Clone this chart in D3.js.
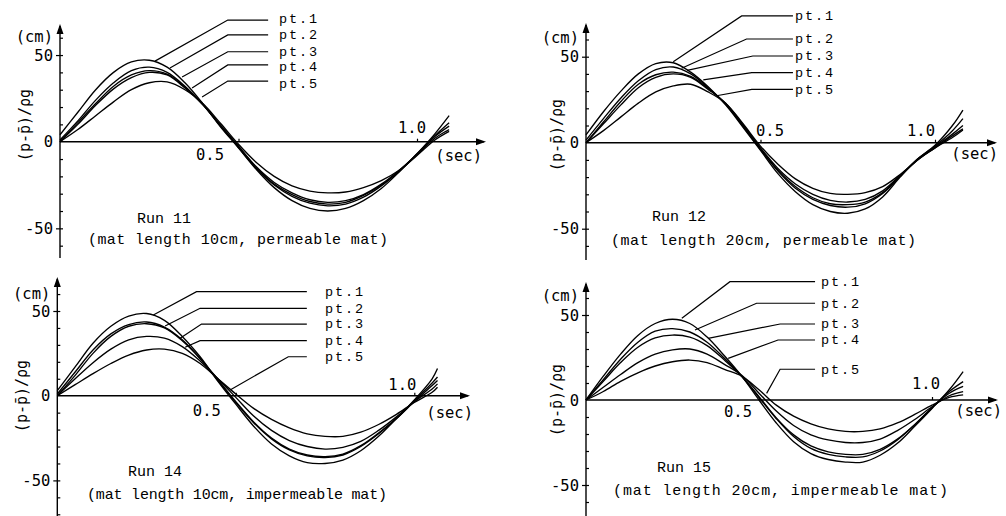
<!DOCTYPE html>
<html><head><meta charset="utf-8">
<script src="https://cdn.jsdelivr.net/npm/d3@7"></script>
<style>body{margin:0;background:#fff;}svg{display:block;}</style>
</head><body>
<svg id="chart" width="1006" height="516"></svg>
<script>
// ---------- DATA ----------
const seriesNames = ["pt.1", "pt.2", "pt.3", "pt.4", "pt.5"];
const runTitles = ["Run 11", "Run 12", "Run 14", "Run 15"];
const runSubtitles = [
  "(mat length 10cm, permeable mat)",
  "(mat length 20cm, permeable mat)",
  "(mat length 10cm, impermeable mat)",
  "(mat length 20cm, impermeable mat)"
];
const xTickValues = [0.5, 1.0];
const xTickLabels = ["0.5", "1.0"];
const yTickValues = [50, 0, -50];
const yTickLabels = ["50", "0", "-50"];
const yUnit = "(cm)";
const xUnit = "(sec)";
const yTitle = "(p-p\u0304)/\u03c1g";

// time (s) of each sample
const times11 = [0,0.05,0.1,0.15,0.2,0.25,0.3,0.35,0.4,0.45,0.5,0.55,0.6,0.65,0.7,0.75,0.8,0.85,0.9,0.95,1.0,1.05,1.09];
const times12 = [0,0.05,0.1,0.15,0.2,0.25,0.3,0.35,0.4,0.45,0.5,0.55,0.6,0.65,0.7,0.75,0.8,0.85,0.9,0.95,1.0,1.05,1.08];
const times14 = [0,0.05,0.1,0.15,0.2,0.25,0.3,0.35,0.4,0.45,0.5,0.55,0.6,0.65,0.7,0.75,0.8,0.85,0.9,0.95,1.0,1.05,1.065];
const times15 = [0,0.05,0.1,0.15,0.2,0.25,0.3,0.35,0.4,0.45,0.5,0.55,0.6,0.65,0.7,0.75,0.8,0.85,0.9,0.95,1.0,1.05,1.09];

// Run 11 (cm)
const run11 = [
  [4,17,30,40,46,47,43,34,22,8.5,-3.5,-16,-26.5,-34,-38.5,-40,-38.5,-34,-27,-17.5,-7,4.5,15],
  [1,12,24,34,41,43,40,32,21.5,9,-3.5,-15.5,-25,-31.5,-35.5,-37,-36,-32,-25.5,-17,-7,3.5,11],
  [0,11,22,32,38.5,41,39,31.5,21.5,9,-3,-15,-24.5,-30.5,-34.5,-36,-35,-31,-25,-17,-7.5,3,9],
  [0,10,21,30.5,37,40,38.5,31,21.5,9.5,-2.5,-14.5,-23.5,-29.5,-33.5,-35,-34,-30.5,-24.5,-16.5,-7.5,2,7],
  [0,7,15,23,30,34,34.5,30,22,10.5,-1.5,-12,-20,-25.5,-28.5,-29.5,-29,-26.5,-22.5,-16.5,-8,1,6]
];
// Run 12
const run12 = [
  [4.5,18,30,40,46,46.5,41,32.5,22,9,-4.5,-18,-28.5,-36,-40,-41,-38.5,-31.5,-20,-9.5,-1.5,10,19],
  [1.5,14,26,36,42.5,44,40,32,22.5,9.5,-4,-16.5,-26.5,-33,-36.5,-37.5,-35.5,-29.5,-19.5,-9.5,-2,7,14],
  [0,12,24,34,39.5,41,38.5,31.5,22.5,10,-3.5,-16,-25.5,-32,-35.5,-36,-34.5,-29,-19.5,-10,-2.5,5,10],
  [0,11,22,32,38,40,38,31,23,10.5,-3,-15,-24,-30,-33.5,-34.5,-33,-28,-19,-10,-3,4,8],
  [0,7,15,23,29.5,33,34,29.5,23,11,-2,-12.5,-21,-26.5,-29.5,-30,-29,-25.5,-18.5,-10,-3,3,7.4]
];
// Run 14
const run14 = [
  [3,17,31,41,47,48.5,44.5,35,23,8.5,-5,-18,-28.5,-35.5,-39.5,-40,-38,-32.5,-24,-13.5,-2.5,10,16],
  [1,14,27,36.5,42,43.5,40.5,33,22,9,-4,-16,-25.5,-32,-35.5,-36.5,-35,-30,-22.5,-13.5,-3,7.5,11],
  [0,12,25,35,41,42.5,40,32.5,22,9.5,-3.5,-15.5,-25,-31.5,-35,-36,-34.5,-29.5,-22,-13.5,-3.5,6,9],
  [0,10,19.5,27.5,33,35,34,29,20.5,10,-1,-12,-20.5,-26.5,-30,-31.5,-30.5,-27,-20.5,-12.5,-3.5,4,7],
  [0,6.5,13,19,24,27,27.5,25,19,10,1,-7.5,-14,-19,-22.5,-24,-24,-21.5,-17,-11,-4,2,5]
];
// Run 15
const run15 = [
  [0,14,27,38,45,47.5,45,37,26,14,0,-13.5,-24.5,-31.5,-35,-36.5,-36.5,-32.5,-25.5,-15.5,-5,6,16.7],
  [0,12,24,34,40.5,42,40,34,24.5,14,1.5,-11,-21.5,-28.5,-32,-33.5,-33.5,-30,-23.5,-14.5,-4.5,5,10.8],
  [0,11,22,31,36.5,38.2,37,32,23.5,14,2,-10.5,-20.5,-27,-30.5,-32,-32,-29,-23,-14.5,-4.5,4,8],
  [0,7.5,15,22,27,29.5,30,27,21,14.5,4,-6.5,-15,-20.5,-23.5,-25,-25,-23,-18,-11.5,-4,2.5,4.9],
  [0,5,11,16,20,22.5,23.5,22,18,14,6,-3,-9.5,-14,-17,-18.5,-18.5,-17,-13.5,-8.5,-3,1.5,3]
];

// leader lines: [anchor time, anchor value, elbow time, label value] for pt.1..pt.5
const leaders11 = [[0.266,46.5,0.47,70.2],[0.308,42.5,0.47,61.6],[0.342,37.3,0.47,51.9],[0.37,31,0.47,44.3],[0.398,25.8,0.47,35]];
const leaders12 = [[0.25,47.1,0.446,73.7],[0.274,43.3,0.46,60.3],[0.29,42,0.478,50.4],[0.336,36.5,0.475,40.7],[0.374,27.3,0.475,31]];
const leaders14 = [[0.269,47.6,0.39,61.4],[0.302,41.1,0.40,51.6],[0.344,33.9,0.404,42.3],[0.358,28.6,0.40,32.5],[0.484,3.4,0.647,23]];
const leaders15 = [[0.277,48.1,0.416,69.6],[0.315,41.2,0.493,56.9],[0.353,36.3,0.561,44.7],[0.411,24.5,0.555,35.3],[0.522,3.9,0.561,18.1]];
const leaderEnds = [0.583, 0.593, 0.699, 0.662];   // time where the horizontal leader stops

// ---------- LAYOUT (pixels / styles) ----------
const panels = [
  {times: times11, runs: run11, leaders: leaders11, ox: 60,  oy: 141.7, k: 1.733, sx: 357, yTop: 24,    yBot: 258, xEnd: 486,
   xlab: [[-28.5, 13], [-5, -14]], secX: 482, secY: 155, cmY: 36, ytx: 25, yty: 125,
   titleX: 137, titleY: 218, subX: 88, subY: 239, subW: 300, ptX: 279, ptDy: [-1.5, -0.5, -0.5, 2, 3]},
  {times: times12, runs: run12, leaders: leaders12, ox: 586, oy: 142.7, k: 1.72,  sx: 349, yTop: 23,    yBot: 260, xEnd: 997,
   xlab: [[9.5, -12.7], [-14, -12.7]], secX: 998, secY: 153, cmY: 37, ytx: 557, yty: 135,
   titleX: 652, titleY: 216, subX: 611, subY: 240, subW: 305, ptX: 795, ptDy: [0, 0, 0, 0, 0]},
  {times: times14, runs: run14, leaders: leaders14, ox: 57.3, oy: 395.7, k: 1.694, sx: 357, yTop: 277,   yBot: 516, xEnd: 470,
   xlab: [[-29, 15], [-12, -11]], secX: 473, secY: 412, cmY: 293, ytx: 22, yty: 396,
   titleX: 128, titleY: 471, subX: 87, subY: 494, subW: 300, ptX: 325, ptDy: [0, 0, 0, 0, 0]},
  {times: times15, runs: run15, leaders: leaders15, ox: 586, oy: 400,   k: 1.7,   sx: 346, yTop: 282,   yBot: 516, xEnd: 998,
   xlab: [[-21, 11.7], [-6, -16.7]], secX: 1002, secY: 410, cmY: 295, ytx: 557, yty: 400,
   titleX: 657, titleY: 467, subX: 613, subY: 490, subW: 335, ptX: 821, ptDy: [0, 0, 0, 0, 0]}
];

const svg = d3.select("#chart");
svg.append("rect").attr("width", 1006).attr("height", 516).attr("fill", "#fff");

const SANS = "'DejaVu Sans Mono', monospace";
const TYPE = "'Liberation Mono', 'DejaVu Sans Mono', monospace";

panels.forEach((p, i) => {
  const g = svg.append("g");
  const x = d3.scaleLinear().domain([0, 1]).range([p.ox, p.ox + p.sx]);
  const y = d3.scaleLinear().domain([0, 50]).range([p.oy, p.oy - 50 * p.k]);

  // y axis line + arrow
  g.append("line").attr("x1", p.ox).attr("x2", p.ox).attr("y1", p.yTop + 2).attr("y2", p.yBot)
    .attr("stroke", "#000").attr("stroke-width", 1.4);
  g.append("path").attr("d", `M${p.ox - 3.5},${p.yTop + 10}L${p.ox},${p.yTop}L${p.ox + 3.5},${p.yTop + 10}Z`).attr("fill", "#000");
  // x axis line + arrow
  g.append("line").attr("x1", p.ox).attr("x2", p.xEnd - 2).attr("y1", p.oy).attr("y2", p.oy)
    .attr("stroke", "#000").attr("stroke-width", 1.4);
  g.append("path").attr("d", `M${p.xEnd - 10},${p.oy - 3.5}L${p.xEnd},${p.oy}L${p.xEnd - 10},${p.oy + 3.5}Z`).attr("fill", "#000");

  // minor y ticks every 10 (to the right)
  const vMin = y.invert(p.yBot), vMax = y.invert(p.yTop + 12);
  const minor = d3.range(-70, 71, 10).filter(v => v >= vMin && v <= vMax && v !== 0);
  const ax = d3.axisRight(y).tickValues(minor).tickSize(3).tickFormat("");
  const axG = g.append("g").attr("transform", `translate(${p.ox},0)`).call(ax);
  axG.select(".domain").remove();
  axG.selectAll("line").attr("stroke", "#000").attr("stroke-width", 1.2);
  // major ticks to the left
  const axL = d3.axisLeft(y).tickValues([50, -50]).tickSize(4).tickFormat("");
  const axLG = g.append("g").attr("transform", `translate(${p.ox},0)`).call(axL);
  axLG.select(".domain").remove();
  axLG.selectAll("line").attr("stroke", "#000").attr("stroke-width", 1.2);

  // x ticks (small, upward)
  const axX = d3.axisTop(x).tickValues(xTickValues).tickSize(3).tickFormat("");
  const axXG = g.append("g").attr("transform", `translate(0,${p.oy})`).call(axX);
  axXG.select(".domain").remove();
  axXG.selectAll("line").attr("stroke", "#000").attr("stroke-width", 1.2);

  // y tick labels
  yTickValues.forEach((v, j) => {
    g.append("text").attr("x", p.ox - 7).attr("y", y(v)).attr("dy", "0.36em")
      .attr("text-anchor", "end").attr("font-family", SANS).attr("font-size", 15.5).text(yTickLabels[j]);
  });
  g.append("text").attr("x", p.ox - 7).attr("y", p.cmY).attr("dy", "0.36em")
    .attr("text-anchor", "end").attr("font-family", SANS).attr("font-size", 15.5).text(yUnit);
  // x tick labels
  xTickValues.forEach((v, j) => {
    g.append("text").attr("x", x(v) + p.xlab[j][0]).attr("y", p.oy + p.xlab[j][1]).attr("dy", "0.36em")
      .attr("text-anchor", "middle").attr("font-family", SANS).attr("font-size", 15.5).text(xTickLabels[j]);
  });
  g.append("text").attr("x", p.secX).attr("y", p.secY).attr("dy", "0.36em")
    .attr("text-anchor", "end").attr("font-family", SANS).attr("font-size", 15.5).text(xUnit);
  // y title
  g.append("text").attr("transform", `translate(${p.ytx},${p.yty}) rotate(-90)`).attr("dy", "0.36em")
    .attr("text-anchor", "middle").attr("font-family", SANS).attr("font-size", 15).text(yTitle);

  // curves
  const line = d3.line().x(d => x(d[0])).y(d => y(d[1])).curve(d3.curveCatmullRom.alpha(0.5));
  p.runs.forEach(vals => {
    const pts = p.times.map((t, j) => [t, vals[j]]);
    g.append("path").attr("d", line(pts)).attr("fill", "none").attr("stroke", "#000").attr("stroke-width", 1.35);
  });

  // leaders + series labels
  p.leaders.forEach((l, j) => {
    const d = `M${x(l[0])},${y(l[1])}L${x(l[2])},${y(l[3])}L${x(leaderEnds[i])},${y(l[3])}`;
    g.append("path").attr("d", d).attr("fill", "none").attr("stroke", "#000").attr("stroke-width", 1.2);
    g.append("text").attr("x", p.ptX).attr("y", y(l[3]) + p.ptDy[j]).attr("dy", "0.32em")
      .attr("font-family", TYPE).attr("font-size", 13.5)
      .attr("textLength", 38).attr("lengthAdjust", "spacing").text(seriesNames[j]);
  });

  // run title & subtitle
  g.append("text").attr("x", p.titleX).attr("y", p.titleY).attr("dy", "0.35em")
    .attr("font-family", TYPE).attr("font-size", 15).text(runTitles[i]);
  g.append("text").attr("x", p.subX).attr("y", p.subY).attr("dy", "0.35em")
    .attr("font-family", TYPE).attr("font-size", 15)
    .attr("textLength", p.subW).attr("lengthAdjust", "spacing").text(runSubtitles[i]);
});
</script>
</body></html>
